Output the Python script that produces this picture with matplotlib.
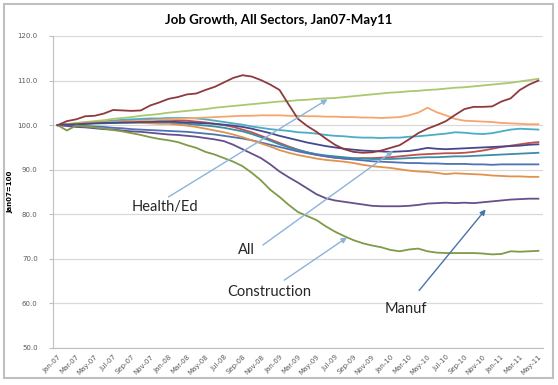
import matplotlib
matplotlib.use('Agg')
from matplotlib import pyplot as plt
from matplotlib.patches import Rectangle
import pandas as pd

# months Jan-07 .. May-11 (53 points), index base Jan07 = 100
months = pd.date_range('2007-01-01', '2011-05-01', freq='MS').strftime('%b-%y').tolist()

ed_health = [100.0, 100.2, 100.5, 100.7, 100.9, 101.1, 101.4, 101.6, 101.8, 102.1, 102.3, 102.5, 102.8,
             103.0, 103.2, 103.4, 103.6, 103.9, 104.1, 104.3, 104.5, 104.7, 104.9, 105.1, 105.3, 105.4,
             105.6, 105.7, 105.9, 106.0, 106.1, 106.3, 106.5, 106.7, 106.9, 107.1, 107.3, 107.4, 107.6,
             107.7, 107.9, 108.0, 108.2, 108.4, 108.5, 108.7, 108.9, 109.1, 109.3, 109.5, 109.8, 110.1, 110.4]
mining = [100.0, 100.9, 101.3, 102.0, 102.1, 102.6, 103.4, 103.3, 103.2, 103.3, 104.4, 105.1, 105.9,
          106.3, 106.9, 107.1, 107.9, 108.6, 109.6, 110.6, 111.2, 110.9, 110.1, 109.1, 107.9, 104.6,
          101.4, 99.8, 98.5, 97.0, 95.6, 94.6, 94.0, 93.8, 93.9, 94.3, 94.9, 95.5, 96.8, 98.2, 99.2,
          100.0, 100.9, 102.3, 103.6, 104.1, 104.1, 104.2, 105.3, 106.0, 107.9, 109.1, 110.0]
government = [100.0, 100.1, 100.2, 100.3, 100.5, 100.6, 100.7, 100.8, 100.9, 101.0, 101.1, 101.2, 101.3,
              101.4, 101.5, 101.6, 101.7, 101.8, 101.9, 102.0, 102.1, 102.1, 102.2, 102.2, 102.2, 102.1,
              102.1, 102.0, 102.0, 101.9, 101.9, 101.8, 101.8, 101.7, 101.7, 101.6, 101.7, 101.8, 102.2,
              102.8, 103.9, 102.9, 102.2, 101.4, 101.0, 100.9, 100.8, 100.7, 100.5, 100.4, 100.3, 100.2, 100.2]
leisure = [100.0, 100.2, 100.4, 100.6, 100.7, 100.9, 101.0, 101.2, 101.3, 101.4, 101.5, 101.5, 101.6,
           101.6, 101.6, 101.5, 101.3, 101.0, 100.7, 100.4, 100.1, 99.7, 99.4, 99.1, 98.9, 98.7, 98.4,
           98.3, 98.1, 97.8, 97.6, 97.5, 97.3, 97.2, 97.2, 97.1, 97.2, 97.2, 97.4, 97.5, 97.7, 97.9,
           98.1, 98.4, 98.3, 98.1, 98.0, 98.2, 98.6, 99.0, 99.2, 99.1, 99.0]
prof_bus = [100.0, 100.2, 100.3, 100.5, 100.6, 100.7, 100.8, 100.9, 101.0, 101.1, 101.2, 101.2, 101.2,
            101.1, 101.0, 100.8, 100.6, 100.3, 100.0, 99.6, 99.0, 98.4, 97.6, 96.8, 96.0, 95.2, 94.5,
            93.9, 93.4, 93.0, 92.7, 92.5, 92.5, 92.6, 92.6, 92.7, 92.8, 93.0, 93.2, 93.4, 93.5, 93.6,
            93.7, 93.7, 93.8, 94.0, 94.3, 94.7, 95.1, 95.4, 95.7, 96.0, 96.2]
total = [100.0, 100.1, 100.2, 100.3, 100.4, 100.5, 100.5, 100.6, 100.6, 100.7, 100.7, 100.8, 100.8,
         100.7, 100.6, 100.5, 100.4, 100.3, 100.1, 99.9, 99.6, 99.2, 98.7, 98.2, 97.6, 97.1, 96.6,
         96.1, 95.7, 95.3, 95.0, 94.7, 94.5, 94.3, 94.2, 94.1, 94.0, 94.1, 94.2, 94.5, 94.9, 94.7,
         94.6, 94.7, 94.8, 94.9, 95.0, 95.1, 95.2, 95.3, 95.4, 95.6, 95.7]
trade = [100.0, 100.1, 100.2, 100.3, 100.4, 100.4, 100.5, 100.5, 100.6, 100.6, 100.6, 100.6, 100.5,
         100.4, 100.3, 100.1, 99.9, 99.7, 99.4, 99.0, 98.6, 98.0, 97.3, 96.5, 95.7, 95.0, 94.4, 93.9,
         93.5, 93.2, 93.0, 92.8, 92.6, 92.5, 92.4, 92.4, 92.4, 92.5, 92.6, 92.7, 92.8, 92.8, 92.9,
         93.0, 93.0, 93.1, 93.2, 93.3, 93.4, 93.5, 93.6, 93.7, 93.8]
financial = [100.0, 100.0, 99.9, 99.8, 99.7, 99.6, 99.4, 99.3, 99.1, 99.0, 98.9, 98.8, 98.7, 98.6,
             98.5, 98.3, 98.1, 97.9, 97.6, 97.3, 97.0, 96.6, 96.1, 95.6, 95.1, 94.6, 94.1, 93.7, 93.3,
             93.0, 92.7, 92.5, 92.3, 92.1, 91.9, 91.8, 91.7, 91.6, 91.5, 91.5, 91.4, 91.4, 91.3, 91.3,
             91.3, 91.2, 91.2, 91.1, 91.2, 91.2, 91.2, 91.2, 91.2]
information = [100.0, 100.2, 100.3, 100.5, 100.6, 100.6, 100.7, 100.6, 100.6, 100.5, 100.4, 100.3, 100.3,
               100.1, 99.9, 99.6, 99.2, 98.8, 98.4, 97.9, 97.3, 96.6, 95.9, 95.2, 94.4, 93.8, 93.3,
               92.9, 92.5, 92.2, 92.0, 91.8, 91.5, 91.1, 90.8, 90.6, 90.4, 90.1, 89.8, 89.6, 89.5, 89.3,
               89.0, 89.2, 89.1, 89.0, 88.9, 88.7, 88.6, 88.5, 88.5, 88.4, 88.4]
manuf = [100.0, 99.8, 99.6, 99.5, 99.3, 99.1, 99.0, 98.8, 98.6, 98.5, 98.3, 98.1, 97.9, 97.8, 97.6,
         97.4, 97.1, 96.8, 96.4, 95.6, 94.6, 93.6, 92.6, 91.2, 89.6, 88.3, 87.1, 85.8, 84.5, 83.6,
         83.1, 82.8, 82.5, 82.2, 81.9, 81.8, 81.8, 81.8, 81.9, 82.1, 82.4, 82.5, 82.6, 82.5, 82.6,
         82.5, 82.7, 82.9, 83.1, 83.3, 83.4, 83.5, 83.5]
construction = [100.0, 98.8, 99.9, 99.7, 99.5, 99.2, 98.9, 98.6, 98.2, 97.8, 97.3, 96.9, 96.6, 96.2,
                95.5, 94.9, 94.0, 93.4, 92.6, 91.8, 90.8, 89.3, 87.6, 85.5, 83.9, 82.1, 80.5, 79.6,
                78.7, 77.3, 76.1, 75.1, 74.2, 73.5, 73.0, 72.6, 72.0, 71.7, 72.1, 72.3, 71.7, 71.4,
                71.3, 71.3, 71.3, 71.3, 71.2, 71.0, 71.1, 71.7, 71.6, 71.7, 71.8]

series = [
    (prof_bus, '#C0504D'),
    (leisure, '#4BACC6'),
    (government, '#F5A66C'),
    (ed_health, '#A9C96E'),
    (trade, '#3A8EA6'),
    (financial, '#4F72B2'),
    (information, '#E0924F'),
    (total, '#45498C'),
    (manuf, '#66508C'),
    (construction, '#7F9A48'),
    (mining, '#8E3A3E'),
]

fig = plt.figure(figsize=(5.58, 3.85), dpi=100)
fig.patches.append(Rectangle((4 / 558, 7 / 385), 549 / 558, 374 / 385, transform=fig.transFigure,
                             fill=False, edgecolor='#BFBFBF', lw=1.5))
ax = fig.add_axes([53 / 558, 37 / 385, 490 / 558, 312 / 385])

x = list(range(len(months)))
for vals, col in series:
    ax.plot(x, vals, color=col, lw=1.3)

ax.set_xlim(-0.5, len(months) - 0.5)
ax.set_ylim(50, 120)
ax.set_yticks(range(50, 121, 10))
ax.set_yticklabels(['%.1f' % v for v in range(50, 121, 10)], fontsize=5, color='#595959')
ax.set_xticks(x[::2])
ax.set_xticklabels(months[::2], rotation=45, ha='right', rotation_mode='anchor',
                   fontsize=5, color='#595959')
ax.grid(axis='y', color='#D9D9D9', lw=0.9)
ax.set_axisbelow(True)
for s in ['top', 'right']:
    ax.spines[s].set_visible(False)
ax.spines['left'].set_color('#BFBFBF')
ax.spines['bottom'].set_color('#BFBFBF')
ax.tick_params(axis='y', length=3, color='#BFBFBF', pad=8)
ax.tick_params(axis='x', length=0, pad=4)
ax.set_ylabel('Jan07=100', fontsize=5, fontweight='bold', labelpad=3)

fig.text(0.5, 1 - 20 / 385, 'Job Growth, All Sectors, Jan07-May11', ha='center', va='center',
         fontsize=9.5, fontweight='bold', family='Lato')

# annotations: (label, text pos, arrow start, arrow tip, arrow colour)
notes = [
    ('Health/Ed', (11.6, 81.6), (12.0, 83.9), (29.2, 105.8), '#8DB3D9'),
    ('All', (20.4, 71.9), (22.2, 73.1), (36.3, 94.2), '#8DB3D9'),
    ('Construction', (22.9, 62.5), (24.5, 65.2), (31.3, 74.8), '#8DB3D9'),
    ('Manuf', (37.7, 58.7), (39.1, 62.9), (46.3, 81.1), '#4A73A8'),
]
for label, tpos, start, tip, acol in notes:
    ax.annotate('', xy=tip, xytext=start,
                arrowprops=dict(arrowstyle='-|>', color=acol, lw=1, mutation_scale=8,
                                shrinkA=0, shrinkB=0))
    ax.text(tpos[0], tpos[1], label, ha='center', va='center', fontsize=10.5,
            family='Lato', color='#262626')

fig.savefig('out.png', dpi=100)
